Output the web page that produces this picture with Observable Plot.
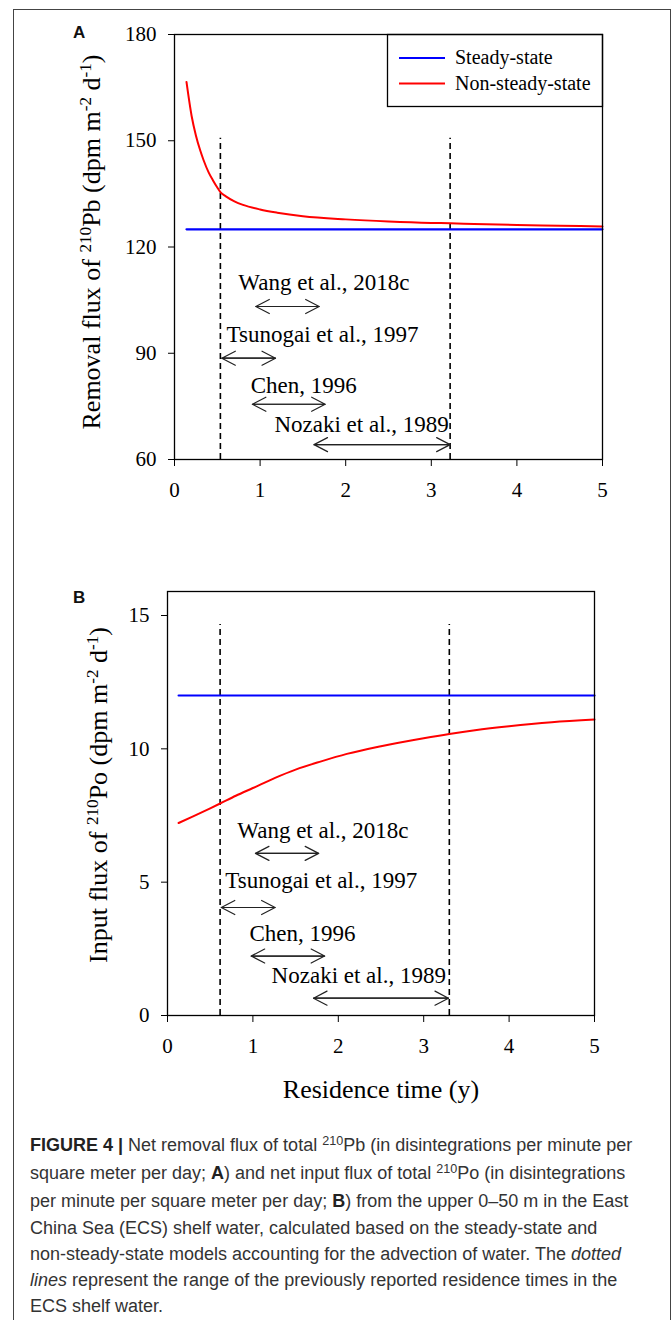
<!DOCTYPE html>
<html>
<head>
<meta charset="utf-8">
<script src="https://cdn.jsdelivr.net/npm/d3@7"></script>
<script src="https://cdn.jsdelivr.net/npm/@observablehq/plot@0.6"></script>
<style>
  html, body { margin: 0; padding: 0; background: #fff; }
  #root { position: relative; width: 672px; height: 1320px; overflow: hidden; background: #fff; }
  #outer { position: absolute; left: 13px; top: 9px; width: 656px; height: 1400px; border: 1.2px solid #444; }
  .abs { position: absolute; }
  .panel-label { font-family: "Liberation Sans", Arial, sans-serif; font-weight: bold; font-size: 17px; color: #111; }
  .ytitle { font-family: "Liberation Serif", "Times New Roman", serif; font-size: 26px; color: #000; white-space: nowrap; transform: translate(-50%, -50%) rotate(-90deg); }
  .sup { font-size: 0.66em; position: relative; top: -0.55em; }
  .xtitle { font-family: "Liberation Serif", "Times New Roman", serif; font-size: 26px; color: #000; white-space: nowrap; transform: translate(-50%, -50%); }
  #caption { font-family: "Liberation Sans", Arial, sans-serif; font-size: 18px; line-height: 26.2px; color: #333; white-space: nowrap; }
  #caption .sup { font-size: 0.7em; top: -0.5em; }
</style>
</head>
<body>
<div id="root">
  <div id="outer"></div>
</div>
<script>
// ---------- Data ----------
const xTicks = [0, 1, 2, 3, 4, 5];
const yTicksA = [60, 90, 120, 150, 180];
const yTicksB = [0, 5, 10, 15];

// Panel A: removal flux of 210Pb
const timeA = [0.14, 0.2, 0.25, 0.3, 0.34, 0.4, 0.45, 0.5, 0.536, 0.6, 0.7, 0.8, 1.0, 1.2, 1.5, 2.0, 2.5, 3.0, 3.22, 3.5, 4.0, 4.5, 5.0];
const nonSteadyA = [166.6, 157, 151.5, 147.3, 144.5, 141, 138.8, 136.8, 135.5, 134.3, 132.9, 131.9, 130.6, 129.7, 128.7, 127.8, 127.2, 126.8, 126.7, 126.5, 126.2, 126.0, 125.8];
const steadyTimeA = [0.14, 5.0];
const steadyA = [125, 125];
const dashedXA = [0.536, 3.22];
const dashedYA = [60, 150.7];

// Panel B: input flux of 210Po
const timeB = [0.13, 0.3, 0.5, 0.616, 0.8, 1.0, 1.26, 1.5, 1.8, 2.1, 2.5, 3.0, 3.3, 3.6, 4.0, 4.5, 5.0];
const nonSteadyB = [7.22, 7.47, 7.77, 7.95, 8.24, 8.53, 8.91, 9.22, 9.53, 9.81, 10.1, 10.4, 10.56, 10.7, 10.85, 11.0, 11.1];
const steadyTimeB = [0.13, 5.0];
const steadyB = [12.0, 12.0];
const dashedXB = [0.616, 3.30];
const dashedYB = [0, 14.66];

// Previously reported residence times (annotations)
const refNames = ["Wang et al., 2018c", "Tsunogai et al., 1997", "Chen, 1996", "Nozaki et al., 1989"];
const refStartA = [0.95, 0.553, 0.91, 1.63];
const refEndA = [1.69, 1.18, 1.76, 3.22];
const refArrowYA = [103.2, 88.6, 75.6, 64.2];
const refLabelXA = [1.746, 1.73, 1.51, 2.186];
const refLabelYA = [110.0, 95.2, 80.9, 69.9];

const refStartB = [1.03, 0.63, 0.98, 1.71];
const refEndB = [1.77, 1.26, 1.84, 3.29];
const refArrowYB = [6.08, 4.05, 2.23, 0.65];
const refLabelXB = [1.82, 1.80, 1.58, 2.24];
const refLabelYB = [6.95, 5.04, 3.07, 1.5];

const seriesNames = ["Steady-state", "Non-steady-state"];
const seriesColors = ["#0000ff", "#ff0000"];

// ---------- Helpers ----------
const serif = "Liberation Serif, Times New Roman, serif";

function panel(opts) {
  const lineData = opts.time.map((t, i) => ({x: t, y: opts.nonSteady[i]}));
  const steadyData = opts.steadyTime.map((t, i) => ({x: t, y: opts.steady[i]}));
  const dashData = opts.dashedX.map(x => ({x, y1: opts.dashedY[0], y2: opts.dashedY[1]}));
  const refs = refNames.map((name, i) => ({
    name, s: opts.refStart[i], e: opts.refEnd[i], ay: opts.refArrowY[i],
    lx: opts.refLabelX[i], ly: opts.refLabelY[i]
  }));
  const arrowsFwd = refs.map(r => ({x1: r.s, x2: r.e, y: r.ay}));
  const arrowsBwd = refs.map(r => ({x1: r.e, x2: r.s, y: r.ay}));
  return Plot.plot({
    width: 672,
    height: opts.height,
    marginLeft: opts.marginLeft,
    marginRight: opts.marginRight,
    marginTop: opts.marginTop,
    marginBottom: opts.marginBottom,
    style: {fontFamily: serif, fontSize: "21px", color: "#000", background: "transparent", overflow: "visible"},
    x: {domain: [0, 5]},
    y: {domain: opts.yDomain},
    marks: [
      Plot.ruleX(dashData, {x: "x", y1: "y1", y2: "y2", stroke: "#000", strokeWidth: 1.6, strokeDasharray: "6,4"}),
      Plot.line(steadyData, {x: "x", y: "y", stroke: seriesColors[0], strokeWidth: 2.2}),
      Plot.line(lineData, {x: "x", y: "y", stroke: seriesColors[1], strokeWidth: 2, curve: "monotone-x"}),
      Plot.arrow(arrowsFwd, {x1: "x1", x2: "x2", y1: "y", y2: "y", stroke: "#222", strokeWidth: 1.2, headLength: 19, headAngle: 55}),
      Plot.arrow(arrowsBwd, {x1: "x1", x2: "x2", y1: "y", y2: "y", stroke: "#222", strokeWidth: 1.2, headLength: 19, headAngle: 55}),
      Plot.text(refs, {x: "lx", y: "ly", text: "name", fontSize: 23, fontFamily: serif, fill: "#000"}),
      Plot.frame({stroke: "#000", strokeWidth: 1.3}),
      Plot.axisX({ticks: xTicks, tickSize: 7, tickPadding: 16, label: null, fontSize: 21, tickFormat: d => String(d)}),
      Plot.axisY({ticks: opts.yTicks, tickSize: 6, tickPadding: 12, label: null, fontSize: 21, tickFormat: d => String(d)})
    ]
  });
}

const root = document.getElementById("root");

function place(el, left, top) {
  el.classList.add("abs");
  el.style.left = left + "px";
  el.style.top = top + "px";
  root.appendChild(el);
  return el;
}

// Panel A
const plotA = panel({
  height: 510, marginLeft: 174, marginRight: 70, marginTop: 34, marginBottom: 51,
  yDomain: [60, 180], yTicks: yTicksA,
  time: timeA, nonSteady: nonSteadyA, steadyTime: steadyTimeA, steady: steadyA,
  dashedX: dashedXA, dashedY: dashedYA,
  refStart: refStartA, refEnd: refEndA, refArrowY: refArrowYA, refLabelX: refLabelXA, refLabelY: refLabelYA
});
place(plotA, 0, 0);

// Panel B
const topB = 560;
const plotB = panel({
  height: 500, marginLeft: 167, marginRight: 78, marginTop: 591 - topB, marginBottom: topB + 500 - 1015,
  yDomain: [0, 15.9], yTicks: yTicksB,
  time: timeB, nonSteady: nonSteadyB, steadyTime: steadyTimeB, steady: steadyB,
  dashedX: dashedXB, dashedY: dashedYB,
  refStart: refStartB, refEnd: refEndB, refArrowY: refArrowYB, refLabelX: refLabelXB, refLabelY: refLabelYB
});
place(plotB, 0, topB);

// Legend (panel A)
const lg = document.createElementNS("http://www.w3.org/2000/svg", "svg");
lg.setAttribute("width", 216);
lg.setAttribute("height", 73);
lg.style.overflow = "visible";
seriesNames.forEach((name, i) => {
  const yy = 24 + i * 25.5;
  const ln = document.createElementNS("http://www.w3.org/2000/svg", "line");
  ln.setAttribute("x1", 12); ln.setAttribute("x2", 58);
  ln.setAttribute("y1", yy); ln.setAttribute("y2", yy);
  ln.setAttribute("stroke", seriesColors[i]); ln.setAttribute("stroke-width", 2);
  lg.appendChild(ln);
  const tx = document.createElementNS("http://www.w3.org/2000/svg", "text");
  tx.setAttribute("x", 68); tx.setAttribute("y", yy);
  tx.setAttribute("dy", "0.32em");
  tx.setAttribute("font-family", serif); tx.setAttribute("font-size", 20);
  tx.textContent = name;
  lg.appendChild(tx);
});
const box = document.createElementNS("http://www.w3.org/2000/svg", "rect");
box.setAttribute("x", 0.5); box.setAttribute("y", 0.5);
box.setAttribute("width", 215); box.setAttribute("height", 72);
box.setAttribute("fill", "none"); box.setAttribute("stroke", "#000"); box.setAttribute("stroke-width", 1.3);
lg.appendChild(box);
place(lg, 387, 34);

// Panel labels
const la = document.createElement("div"); la.className = "panel-label"; la.textContent = "A"; place(la, 73, 23);
const lb = document.createElement("div"); lb.className = "panel-label"; lb.textContent = "B"; place(lb, 73, 588);

// Axis titles
const ta = document.createElement("div");
ta.className = "ytitle";
ta.innerHTML = 'Removal flux of <span class="sup">210</span>Pb (dpm m<span class="sup">-2</span> d<span class="sup">-1</span>)';
place(ta, 92, 242);

const tb = document.createElement("div");
tb.className = "ytitle";
tb.innerHTML = 'Input flux of <span class="sup">210</span>Po (dpm m<span class="sup">-2</span> d<span class="sup">-1</span>)';
place(tb, 99, 795);

const tx = document.createElement("div");
tx.className = "xtitle";
tx.textContent = "Residence time (y)";
place(tx, 381, 1090);

// Caption
const cap = document.createElement("div");
cap.id = "caption";
cap.innerHTML =
  '<b style="color:#222">FIGURE 4 |</b> Net removal flux of total <span class="sup">210</span>Pb (in disintegrations per minute per<br>' +
  'square meter per day; <b style="color:#222">A</b>) and net input flux of total <span class="sup">210</span>Po (in disintegrations<br>' +
  'per minute per square meter per day; <b style="color:#222">B</b>) from the upper 0–50 m in the East<br>' +
  'China Sea (ECS) shelf water, calculated based on the steady-state and<br>' +
  'non-steady-state models accounting for the advection of water. The <i>dotted</i><br>' +
  '<i>lines</i> represent the range of the previously reported residence times in the<br>' +
  'ECS shelf water.';
place(cap, 30, 1132);
</script>
</body>
</html>
